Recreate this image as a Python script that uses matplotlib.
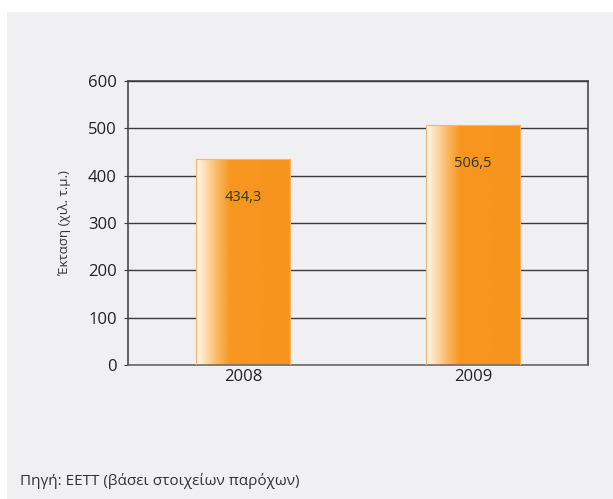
import matplotlib
matplotlib.use('Agg')
import matplotlib.pyplot as plt
import numpy as np
from matplotlib.patches import Rectangle
from matplotlib.colors import LinearSegmentedColormap

years = ['2008', '2009']
values = [434.3, 506.5]
labels = ['434,3', '506,5']

plt.rcParams['font.family'] = ['Open Sans', 'DejaVu Sans']

fig = plt.figure(figsize=(6.13, 4.99), dpi=100)
fig.patch.set_facecolor('white')
# gray panel behind everything
fig.patches.append(Rectangle((7/613, 0), 1, 1 - 12/499, transform=fig.transFigure,
                             facecolor='#f0f0f2', edgecolor='none', zorder=-10))

ax = fig.add_axes([128/613, 1 - 365/499, 460/613, 284/499])
ax.patch.set_visible(False)

ax.set_xlim(-0.5, 1.5)
ax.set_ylim(0, 600)
ax.set_yticks(range(0, 601, 100))
ax.set_xticks(range(len(years)))
ax.set_xticklabels(years)

ax.yaxis.grid(True, color='#3a3a3a', linewidth=1)
ax.set_axisbelow(True)

for s in ['left', 'right', 'top']:
    ax.spines[s].set_color('#3a3a3a')
    ax.spines[s].set_linewidth(1.1)
ax.spines['bottom'].set_color('#6a6a6a')
ax.spines['bottom'].set_linewidth(1.2)

ax.tick_params(axis='y', length=3, color='#3a3a3a', labelsize=12, pad=5, labelcolor='#222222')
ax.tick_params(axis='x', length=0, labelsize=12, pad=3, labelcolor='#222222')

# white-to-orange fade on the left side of each bar
cmap = LinearSegmentedColormap.from_list('barfade', [(0, '#fffdf8'), (0.06, '#fee8cc'),
                                                       (0.2, '#fbbf74'), (0.36, '#f7961f'),
                                                       (1, '#f7941d')])
grad = np.linspace(0, 1, 256).reshape(1, -1)
width = 0.41
bars = ax.bar(range(len(values)), values, width=width, color='none',
              edgecolor='#f9b36a', linewidth=0.8, zorder=3)
for b in bars:
    x0, y0 = b.get_x(), b.get_y()
    ax.imshow(grad, cmap=cmap, aspect='auto', zorder=2.5, interpolation='bilinear',
              extent=(x0, x0 + b.get_width(), y0, y0 + b.get_height()))

for i, v in enumerate(values):
    ax.text(i, v - 80, labels[i], ha='center', va='center', fontsize=10.5, color='#333333', zorder=4)

ax.set_xlim(-0.5, 1.5)
ax.set_ylim(0, 600)

ax.set_ylabel('Έκταση (χιλ. τ.μ.)', fontsize=9.5, color='#333333', labelpad=12)

fig.text(20/613, 1 - 481/499, 'Πηγή: ΕΕΤΤ (βάσει στοιχείων παρόχων)', fontsize=11,
         color='#333333', va='center', ha='left')

fig.savefig('out.png', dpi=100, facecolor=fig.get_facecolor())
